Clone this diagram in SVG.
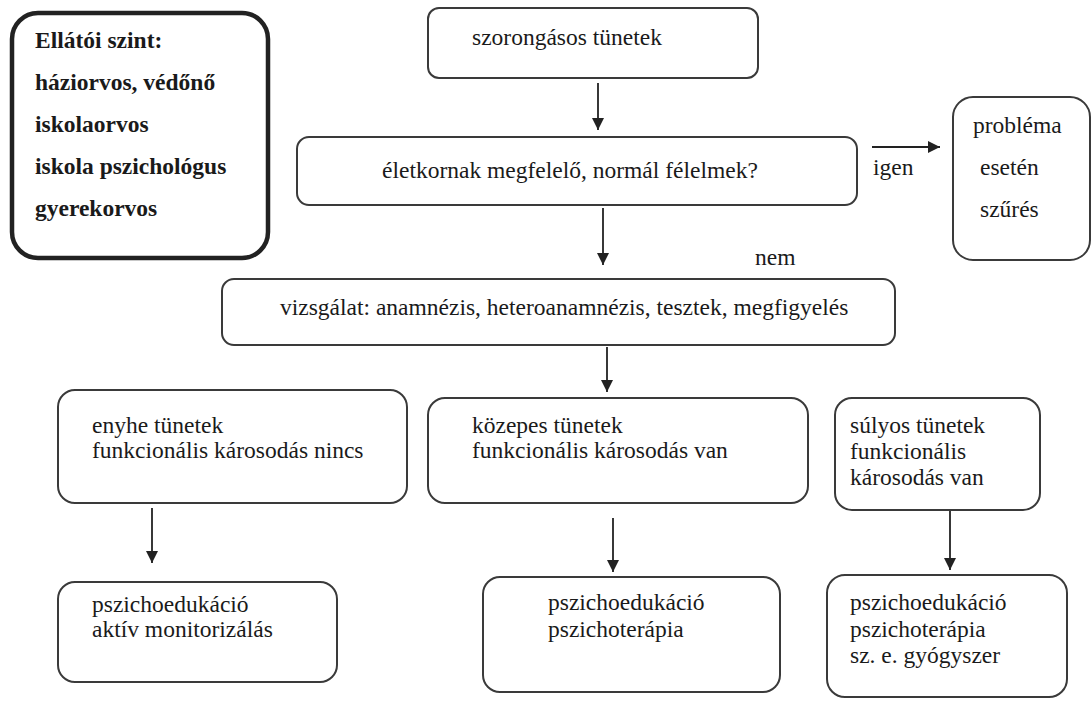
<svg xmlns="http://www.w3.org/2000/svg" width="1092" height="702" viewBox="0 0 1092 702">
<defs>
<style>
.box{fill:#fff;stroke:#3a3a3a;stroke-width:2}
.thick{fill:#fff;stroke:#222;stroke-width:4.5}
.t{font-family:"Liberation Serif","Times New Roman",serif;font-size:23.5px;fill:#1a1a1a}
.b{font-weight:bold}
.c{stroke:#222;stroke-width:1.8;fill:none}
</style>
<marker id="ah" viewBox="0 0 10 10" refX="10" refY="5" markerWidth="7" markerHeight="7" markerUnits="userSpaceOnUse" orient="auto">
<path d="M0,0 L10,5 L0,10 z" fill="#222"/>
</marker>
<marker id="ahs" viewBox="0 0 10 10" refX="10" refY="5" markerWidth="12" markerHeight="12" orient="auto" markerUnits="userSpaceOnUse">
<path d="M0,0 L10,5 L0,10 z" fill="#222"/>
</marker>
</defs>
<rect width="1092" height="702" fill="#fff"/>
<g id="connectors">
<line class="c" x1="598" y1="83" x2="598" y2="130" marker-end="url(#ahs)"/>
<line class="c" x1="872" y1="147" x2="940" y2="147" marker-end="url(#ahs)"/>
<line class="c" x1="603" y1="208" x2="603" y2="265" marker-end="url(#ahs)"/>
<line class="c" x1="607" y1="347" x2="607" y2="392" marker-end="url(#ahs)"/>
<line class="c" x1="152" y1="508" x2="152" y2="563" marker-end="url(#ahs)"/>
<line class="c" x1="613" y1="518" x2="613" y2="572" marker-end="url(#ahs)"/>
<line class="c" x1="950" y1="510" x2="950" y2="570" marker-end="url(#ahs)"/>
<text class="t" x="873" y="175">igen</text>
<text class="t" x="755" y="265">nem</text>
</g>
<g id="ellatoi">
<rect class="thick" x="12" y="13" width="256" height="245" rx="26"/>
<text class="t b" x="35" y="48">Ellátói szint:</text>
<text class="t b" x="35" y="90">háziorvos, védőnő</text>
<text class="t b" x="35" y="132">iskolaorvos</text>
<text class="t b" x="35" y="174">iskola pszichológus</text>
<text class="t b" x="35" y="216">gyerekorvos</text>
</g>
<g id="szorongasos">
<rect class="box" x="428" y="8" width="330" height="70" rx="11"/>
<text class="t" x="472" y="45">szorongásos tünetek</text>
</g>
<g id="eletkornak">
<rect class="box" x="297" y="137" width="560" height="68" rx="12"/>
<text class="t" x="382" y="178">életkornak megfelelő, normál félelmek?</text>
</g>
<g id="problema">
<rect class="box" x="953" y="97" width="137" height="163" rx="20"/>
<text class="t" x="973" y="133">probléma</text>
<text class="t" x="980" y="175">esetén</text>
<text class="t" x="980" y="217">szűrés</text>
</g>
<g id="vizsgalat">
<rect class="box" x="222" y="279" width="673" height="66" rx="12"/>
<text class="t" x="280" y="315">vizsgálat: anamnézis, heteroanamnézis, tesztek, megfigyelés</text>
</g>
<g id="enyhe">
<rect class="box" x="58" y="390" width="349" height="113" rx="17"/>
<text class="t" x="92" y="433">enyhe tünetek</text>
<text class="t" x="92" y="458">funkcionális károsodás nincs</text>
</g>
<g id="kozepes">
<rect class="box" x="428" y="398" width="380" height="105" rx="17"/>
<text class="t" x="472" y="433">közepes tünetek</text>
<text class="t" x="472" y="458">funkcionális károsodás van</text>
</g>
<g id="sulyos">
<rect class="box" x="835" y="398" width="205" height="112" rx="17"/>
<text class="t" x="850" y="433">súlyos tünetek</text>
<text class="t" x="850" y="459">funkcionális</text>
<text class="t" x="850" y="485">károsodás van</text>
</g>
<g id="enyhe-kezeles">
<rect class="box" x="58" y="582" width="279" height="100" rx="17"/>
<text class="t" x="92" y="612">pszichoedukáció</text>
<text class="t" x="92" y="637">aktív monitorizálás</text>
</g>
<g id="kozepes-kezeles">
<rect class="box" x="483" y="577" width="297" height="115" rx="17"/>
<text class="t" x="548" y="610">pszichoedukáció</text>
<text class="t" x="548" y="637">pszichoterápia</text>
</g>
<g id="sulyos-kezeles">
<rect class="box" x="827" y="575" width="240" height="122" rx="18"/>
<text class="t" x="850" y="610">pszichoedukáció</text>
<text class="t" x="850" y="637">pszichoterápia</text>
<text class="t" x="850" y="663">sz. e. gyógyszer</text>
</g>
</svg>
